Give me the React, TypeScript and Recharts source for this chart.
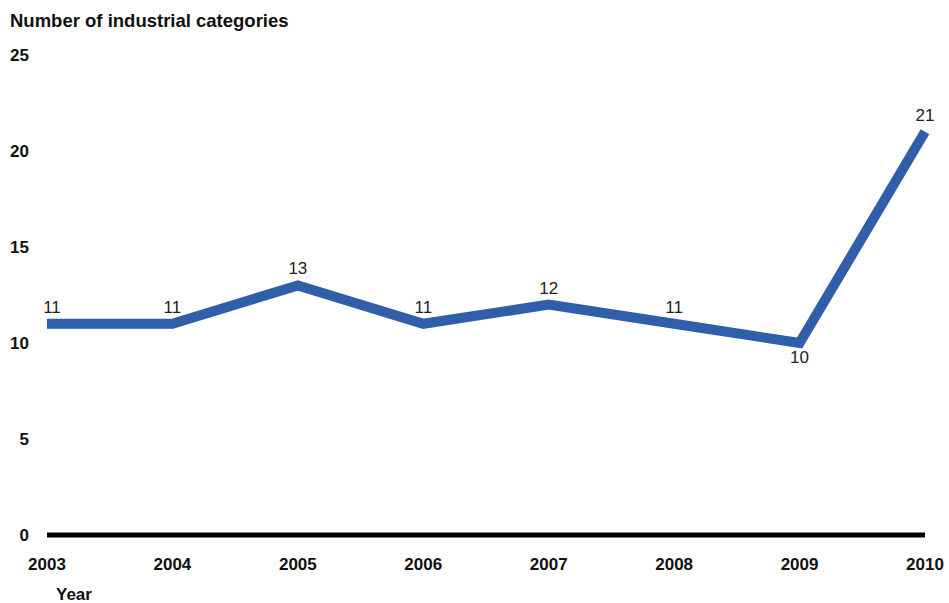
import React from 'react';
import { LineChart, Line, XAxis, YAxis, LabelList } from 'recharts';

const years = ['2003', '2004', '2005', '2006', '2007', '2008', '2009', '2010'];
const categoryCounts = [11, 11, 13, 11, 12, 11, 10, 21];
const yTicks = [0, 5, 10, 15, 20, 25];

const data = years.map((year, i) => ({ year, count: categoryCounts[i] }));

const FONT = '"Liberation Sans", Arial, sans-serif';
const BLUE = '#305ea8';
const lowest = Math.min(...categoryCounts);

// label above the point, except the lowest one which sits below the line
function PointLabel(props: any) {
  const { x, y, value, index } = props;
  const below = value === lowest;
  const dx = index === 0 ? 5 : 0;
  return (
    <text
      x={x + dx}
      y={below ? y + 8 : y - 11}
      textAnchor="middle"
      dominantBaseline={below ? 'hanging' : 'auto'}
      fontFamily={FONT}
      fontSize={17}
      fill="#222"
    >
      {value}
    </text>
  );
}

export default function App() {
  return (
    <div style={{ position: 'absolute', left: 0, top: 0, width: 949, height: 603, background: '#fff', fontFamily: FONT }}>
      <div style={{ position: 'absolute', left: 10, top: 10, fontSize: 18.5, fontWeight: 'bold', color: '#111' }}>
        Number of industrial categories
      </div>
      <div style={{ position: 'absolute', left: 56, top: 585, fontSize: 17, fontWeight: 'bold', color: '#111' }}>
        Year
      </div>
      <LineChart width={949} height={603} data={data} margin={{ top: 55, right: 24, bottom: 38, left: 7 }}>
        <XAxis
          dataKey="year"
          axisLine={{ stroke: '#000', strokeWidth: 5 }}
          tickLine={false}
          tickSize={0}
          tickMargin={23}
          interval={0}
          tick={{ fill: '#111', fontSize: 17, fontWeight: 'bold', fontFamily: FONT }}
        />
        <YAxis
          width={40}
          domain={[0, 25]}
          ticks={yTicks}
          axisLine={false}
          tickLine={false}
          tickSize={0}
          tickMargin={18}
          tick={{ fill: '#111', fontSize: 17, fontWeight: 'bold', fontFamily: FONT }}
        />
        <Line
          type="linear"
          dataKey="count"
          stroke={BLUE}
          strokeWidth={10}
          strokeLinejoin="miter"
          strokeLinecap="butt"
          dot={false}
          activeDot={false}
          isAnimationActive={false}
        >
          <LabelList dataKey="count" content={<PointLabel />} />
        </Line>
      </LineChart>
    </div>
  );
}
